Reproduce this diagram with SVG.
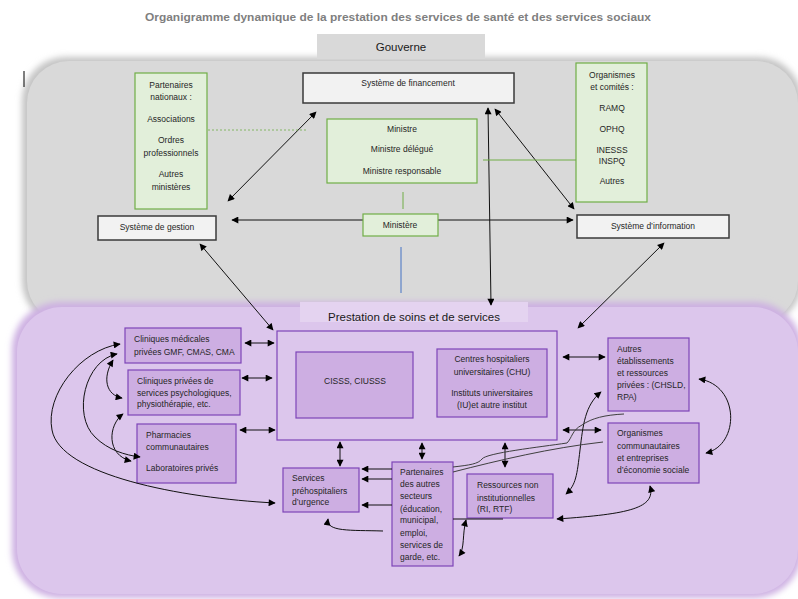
<svg xmlns="http://www.w3.org/2000/svg" width="798" height="599" viewBox="0 0 798 599">
<defs>
<style>
text{font-family:"Liberation Sans",Arial,sans-serif;fill:#262626;font-size:8.5px}
.c{text-anchor:middle}
.title{font-size:11.5px;font-weight:bold;fill:#7f7f7f}
.tab{font-size:11.5px;fill:#1a1a1a}
.green{fill:#e2efda;stroke:#70ad47;stroke-width:1.2}
.white{fill:#f2f2f2;stroke:#3a3a3a;stroke-width:1.5}
.pbox{fill:#cdaee2;stroke:#7e45b8;stroke-width:1.2}
.conn path,.conn line{fill:none;stroke:#111;stroke-width:1}
.arr{marker-start:url(#ah);marker-end:url(#ah)}
.one{marker-end:url(#ah)}
</style>
<marker id="ah" viewBox="0 0 10 10" refX="9" refY="5" markerWidth="8" markerHeight="7" orient="auto-start-reverse" markerUnits="userSpaceOnUse"><path d="M0,0 L10,5 L0,10 z" fill="#000"/></marker>
<filter id="sh" x="-5%" y="-5%" width="110%" height="110%"><feGaussianBlur stdDeviation="3"/></filter>
</defs>
<rect width="798" height="599" fill="#fff"/>
<text class="title c" x="398" y="21" textLength="506" lengthAdjust="spacingAndGlyphs">Organigramme dynamique de la prestation des services de santé et des services sociaux</text>

<g id="gouverne">
<rect x="22" y="57" width="780" height="268" rx="44" fill="#c4c4c4" filter="url(#sh)"/>
<rect x="27" y="61" width="771" height="262" rx="42" fill="#d9d9d9"/>
<rect x="317" y="34" width="168" height="25" fill="#d9d9d9"/>
<text class="tab c" x="401" y="51">Gouverne</text>
</g>
<line x1="24" y1="71" x2="24" y2="87" stroke="#000" stroke-width="1"/>

<g id="prestation">
<rect x="12" y="302" width="790" height="296" rx="48" fill="#cdb0e2" filter="url(#sh)"/>
<rect x="17" y="307" width="781" height="287" rx="45" fill="#dcc6ec"/>
<rect x="300" y="302" width="228" height="20" fill="#e4d3f0"/>
<text class="c" x="414" y="321" style="font-size:11.5px;fill:#1a1a1a">Prestation de soins et de services</text>
</g>

<g id="partenaires-nationaux">
<rect class="green" x="135" y="73" width="72" height="136"/>
<text class="c" x="171" y="88">Partenaires</text>
<text class="c" x="171" y="100">nationaux :</text>
<text class="c" x="171" y="122">Associations</text>
<text class="c" x="171" y="143">Ordres</text>
<text class="c" x="171" y="156">professionnels</text>
<text class="c" x="171" y="177">Autres</text>
<text class="c" x="171" y="190">ministères</text>
</g>
<g id="financement">
<rect class="white" x="303" y="73" width="211" height="30"/>
<text class="c" x="408" y="86">Système de financement</text>
</g>
<g id="ministre">
<rect class="green" x="327" y="119" width="150" height="64"/>
<text class="c" x="402" y="132">Ministre</text>
<text class="c" x="402" y="152">Ministre délégué</text>
<text class="c" x="402" y="174">Ministre responsable</text>
</g>
<g id="organismes-comites">
<rect class="green" x="576" y="63" width="71" height="139"/>
<text class="c" x="612" y="78">Organismes</text>
<text class="c" x="612" y="90">et comités :</text>
<text class="c" x="612" y="111">RAMQ</text>
<text class="c" x="612" y="132">OPHQ</text>
<text class="c" x="612" y="153">INESSS</text>
<text class="c" x="612" y="164">INSPQ</text>
<text class="c" x="612" y="184">Autres</text>
</g>

<g class="conn" id="connectors-top">
<line class="arr" x1="228" y1="201" x2="316" y2="112"/>
<line class="arr" x1="495" y1="109" x2="574" y2="209"/>
<line class="arr" x1="488" y1="108" x2="491" y2="305"/>
<line class="arr" x1="232" y1="220" x2="573" y2="220"/>
<line class="arr" x1="200" y1="244" x2="273" y2="330"/>
<line class="arr" x1="664" y1="243" x2="578" y2="328"/>
<line x1="208" y1="130" x2="308" y2="130" style="stroke:#70ad47;stroke-dasharray:2 2;stroke-width:0.8"/>
<line x1="483" y1="160" x2="576" y2="160" style="stroke:#70ad47;stroke-width:1"/>
<line x1="403" y1="192" x2="403" y2="209" style="stroke:#70ad47;stroke-width:1"/>
<line x1="401" y1="247" x2="401" y2="293" style="stroke:#4472c4;stroke-width:1"/>
</g>

<g id="ministere">
<rect class="green" x="363" y="214" width="75" height="22"/>
<text class="c" x="400" y="228">Ministère</text>
</g>
<g id="gestion">
<rect class="white" x="98" y="216" width="118" height="24"/>
<text class="c" x="157" y="230">Système de gestion</text>
</g>
<g id="information">
<rect class="white" x="577" y="215" width="152" height="23"/>
<text class="c" x="653" y="229">Système d’information</text>
</g>

<g id="etablissements">
<rect x="277" y="331" width="280" height="109" fill="#dcc6ec" stroke="#7e45b8" stroke-width="1.2"/>
</g>
<g id="cisss">
<rect class="pbox" x="296" y="352" width="117" height="66"/>
<text class="c" x="355" y="384">CISSS, CIUSSS</text>
</g>
<g id="chu">
<rect class="pbox" x="437" y="349" width="110" height="68"/>
<text class="c" x="492" y="362">Centres hospitaliers</text>
<text class="c" x="492" y="375">universitaires (CHU)</text>
<text class="c" x="492" y="396">Instituts universitaires</text>
<text class="c" x="492" y="408">(IU)et autre institut</text>
</g>
<g id="cliniques-medicales">
<rect class="pbox" x="125" y="328" width="116" height="35"/>
<text x="134" y="342">Cliniques médicales</text>
<text x="134" y="355">privées GMF, CMAS, CMA</text>
</g>
<g id="cliniques-privees">
<rect class="pbox" x="128" y="370" width="112" height="45"/>
<text x="137" y="384">Cliniques privées de</text>
<text x="137" y="396">services psychologiques,</text>
<text x="137" y="407">physiothérapie, etc.</text>
</g>
<g id="pharmacies">
<rect class="pbox" x="137" y="424" width="99" height="59"/>
<text x="146" y="438">Pharmacies</text>
<text x="146" y="450">communautaires</text>
<text x="146" y="471">Laboratoires privés</text>
</g>
<g id="autres-etablissements">
<rect class="pbox" x="608" y="338" width="81" height="73"/>
<text x="617" y="352">Autres</text>
<text x="617" y="364">établissements</text>
<text x="617" y="376">et ressources</text>
<text x="617" y="388">privées : (CHSLD,</text>
<text x="617" y="400">RPA)</text>
</g>
<g id="organismes-communautaires">
<rect class="pbox" x="608" y="423" width="91" height="60"/>
<text x="617" y="436">Organismes</text>
<text x="617" y="449">communautaires</text>
<text x="617" y="461">et entreprises</text>
<text x="617" y="473">d’économie sociale</text>
</g>
<g id="services-prehospitaliers">
<rect class="pbox" x="283" y="468" width="76" height="44"/>
<text x="292" y="481">Services</text>
<text x="292" y="494">préhospitaliers</text>
<text x="292" y="505">d’urgence</text>
</g>
<g id="partenaires-secteurs">
<rect class="pbox" x="392" y="462" width="61" height="104"/>
<text x="400" y="475">Partenaires</text>
<text x="400" y="487">des autres</text>
<text x="400" y="499">secteurs</text>
<text x="400" y="512">(éducation,</text>
<text x="400" y="523">municipal,</text>
<text x="400" y="536">emploi,</text>
<text x="400" y="548">services de</text>
<text x="400" y="560">garde, etc.</text>
</g>
<g id="ressources">
<rect class="pbox" x="467" y="474" width="86" height="44"/>
<text x="477" y="488">Ressources non</text>
<text x="477" y="501">institutionnelles</text>
<text x="477" y="512">(RI, RTF)</text>
</g>

<g class="conn" id="connectors-prestation">
<line class="arr" x1="245" y1="343" x2="274" y2="343"/>
<line class="arr" x1="242" y1="378" x2="272" y2="378"/>
<line class="arr" x1="240" y1="430" x2="275" y2="430"/>
<line class="arr" x1="563" y1="357" x2="605" y2="357"/>
<line class="arr" x1="563" y1="430" x2="601" y2="430"/>
<line class="arr" x1="340" y1="442" x2="340" y2="466"/>
<line class="arr" x1="422" y1="443" x2="422" y2="459"/>
<line class="arr" x1="505" y1="443" x2="505" y2="467"/>
<line class="one" x1="392" y1="469" x2="362" y2="469"/>
<line class="one" x1="392" y1="479" x2="362" y2="479"/>
<line class="one" x1="392" y1="505" x2="362" y2="505"/>
<path class="one" d="M383,531 C350,530 326,532 328,519"/>
<path class="arr" d="M120,344 C80,350 45,395 52,430 C60,475 180,498 275,503"/>
<path class="arr" d="M117,354 C85,360 72,415 95,437 C108,450 125,455 140,457"/>
<path class="arr" d="M113,360 C102,378 106,395 122,398"/>
<path class="arr" d="M123,414 C108,425 106,455 131,461"/>
<path class="arr" d="M699,379 C740,385 740,445 706,453"/>
<path class="arr" d="M650,486 C656,508 630,514 557,519"/>
<path class="arr" d="M601,392 C585,405 583,425 580,450 C577,475 576,485 566,494"/>
<path class="arr" d="M466,520 C462,535 465,548 459,556"/>
<line x1="453" y1="519" x2="503" y2="519"/>
<path d="M453,467 C470,465 478,464 482,459 C486,453 540,447 567,443 C572,438 572,430 582,425 C592,418 605,415 624,414" style="stroke:#3f3f3f"/>
<path d="M453,472 C500,460 550,448 603,442" style="stroke:#3f3f3f"/>
</g>
</svg>
